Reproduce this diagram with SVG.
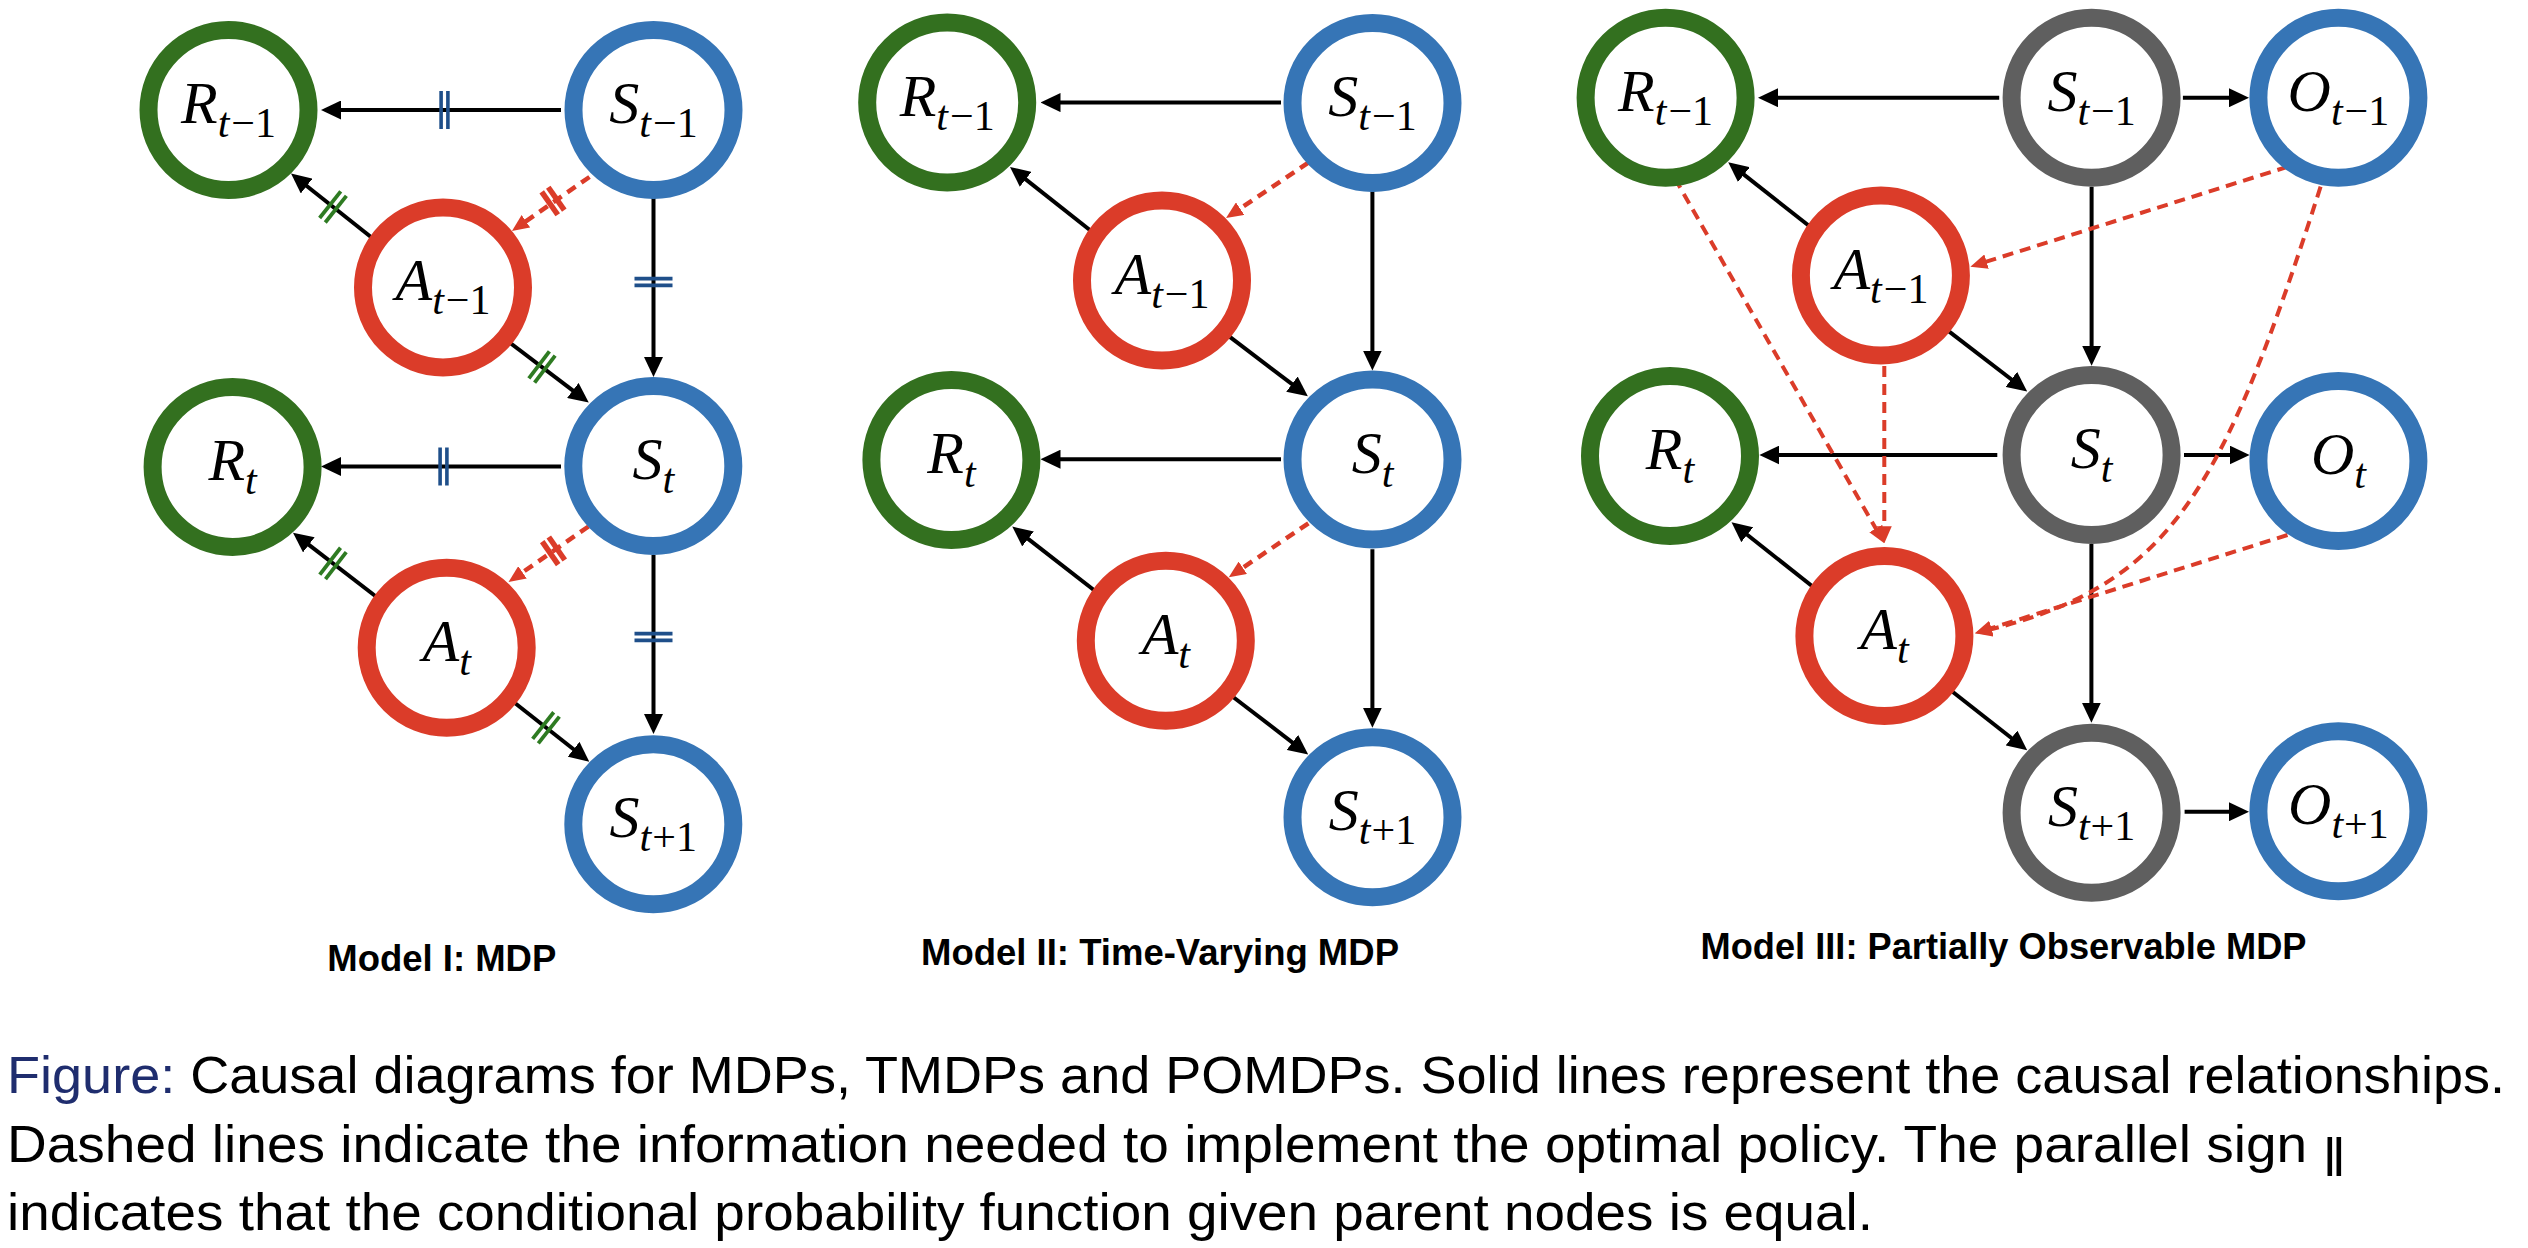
<svg xmlns="http://www.w3.org/2000/svg" width="2528" height="1248" viewBox="0 0 2528 1248">
<defs>
<style>
.n circle{fill:#fff;stroke-width:18}
.g circle{stroke:#33701f}
.b circle{stroke:#3675b6}
.r circle{stroke:#db3c29}
.k circle{stroke:#5f5f5f}
.lbl{font-family:"Liberation Serif","Times New Roman",serif;font-size:60px;text-anchor:middle;fill:#000}
.it{font-style:italic}
.sb{font-size:42px}
.e{stroke:#000;stroke-width:4;fill:none;marker-end:url(#ah)}
.d{stroke:#db3c29;stroke-width:4.5;fill:none;stroke-dasharray:10 7;marker-end:url(#ahr)}
.d3{stroke-width:4;stroke-dasharray:11 7}
.ttl{font-family:"Liberation Sans",Arial,sans-serif;font-weight:bold;font-size:36px;text-anchor:middle;fill:#000}
.cap{font-family:"Liberation Sans",Arial,sans-serif;font-size:52px;fill:#000}
.tb{stroke:#1f4f8a;stroke-width:3.6}
.tg{stroke:#2e7b22;stroke-width:3.8}
.tr{stroke:#db3c29;stroke-width:5.5}
</style>
<marker id="ah" markerUnits="userSpaceOnUse" viewBox="0 0 20 19" markerWidth="20" markerHeight="19" refX="6" refY="9.5" orient="auto"><path d="M0,0 L20,9.5 L0,19 z" fill="#000"/></marker>
<marker id="ahr" markerUnits="userSpaceOnUse" viewBox="0 0 17 15" markerWidth="17" markerHeight="15" refX="5" refY="7.5" orient="auto"><path d="M0,0 L17,7.5 L0,15 z" fill="#db3c29"/></marker>
<g id="tkB"><line x1="-3.4" y1="-19" x2="-3.4" y2="19"/><line x1="3.4" y1="-19" x2="3.4" y2="19"/></g>
<g id="tkG"><line x1="-3.6" y1="-17" x2="-3.6" y2="17"/><line x1="3.6" y1="-17" x2="3.6" y2="17"/></g>
<g id="tkR"><line x1="-4" y1="-14" x2="-4" y2="14"/><line x1="4" y1="-14" x2="4" y2="14"/></g>
</defs>
<rect width="2528" height="1248" fill="#fff"/>

<g id="connectors">
<path class="e" d="M561,110H335"/>
<path class="e" d="M561,466.5H335"/>
<path class="e" d="M376,241L302,182.3"/>
<path class="e" d="M509,342L577.6,394.1"/>
<path class="e" d="M653.5,198V363"/>
<path class="e" d="M653.5,555V720"/>
<path class="e" d="M380.5,600L304.1,541.2"/>
<path class="e" d="M513.3,701.7L578.3,753"/>
<path class="d" d="M589.5,177L521.8,224.1"/>
<path class="d" d="M588.5,526.5L518.4,575.2"/>
<use href="#tkB" class="tb" transform="translate(444.5,110)"/>
<use href="#tkB" class="tb" transform="translate(443.5,466.5)"/>
<use href="#tkB" class="tb" transform="translate(653.5,282) rotate(90)"/>
<use href="#tkB" class="tb" transform="translate(653.5,637) rotate(90)"/>
<use href="#tkG" class="tg" transform="translate(333,206.9) rotate(38.4)"/>
<use href="#tkG" class="tg" transform="translate(542,367) rotate(37.2)"/>
<use href="#tkG" class="tg" transform="translate(333,563.4) rotate(37.6)"/>
<use href="#tkG" class="tg" transform="translate(546,727.8) rotate(38.3)"/>
<use href="#tkR" class="tr" transform="translate(553,201) rotate(145.1)"/>
<use href="#tkR" class="tr" transform="translate(553.5,550.8) rotate(145.2)"/>
<path class="e" d="M1281,102.6H1054.5"/>
<path class="e" d="M1281,459.2H1054.5"/>
<path class="e" d="M1095.2,234.2L1021,175.6"/>
<path class="e" d="M1227.2,334.9L1296.7,387.7"/>
<path class="e" d="M1372.4,191.4V356.5"/>
<path class="e" d="M1372.4,549.3V713.7"/>
<path class="e" d="M1099,594L1023.3,535.2"/>
<path class="e" d="M1231.8,696L1297.1,746.1"/>
<path class="d" d="M1308.4,162.6L1236,211.4"/>
<path class="d" d="M1308.4,523.3L1238.7,570.6"/>
<path class="e" d="M1999.2,97.7H1772"/>
<path class="e" d="M2182.9,97.7H2235"/>
<path class="e" d="M1814.3,230L1739.2,170.9"/>
<path class="e" d="M2091.6,186.7V351.7"/>
<path class="e" d="M1946.3,329.3L2016.1,383"/>
<path class="e" d="M1997.3,455H1773.4"/>
<path class="e" d="M2184,455H2235.6"/>
<path class="e" d="M2091.4,544V708.7"/>
<path class="e" d="M1817,590L1742.5,531"/>
<path class="e" d="M1950.3,690L2016.2,741.7"/>
<path class="e" d="M2184.6,811.7H2235"/>
<path class="d d3" d="M2287.9,166.7L1981.8,263.1"/>
<path class="d d3" d="M1674.8,178.3L1878.3,532.9"/>
<path class="d d3" d="M1884.3,366V531.3"/>
<path class="d d3" d="M2320.6,186.7C2222.7,491.3 2172,584.5 1986.7,630.4"/>
<path class="d d3" d="M2287.5,535L1986.4,629.7"/>
</g>

<g id="m1-R-tm1" class="n g"><circle cx="228.5" cy="110" r="80"/><text class="lbl" x="228.5" y="123"><tspan class="it">R</tspan><tspan class="sb it" dy="14">t</tspan><tspan class="sb" dx="2">−1</tspan></text></g>
<g id="m1-S-tm1" class="n b"><circle cx="653.5" cy="110" r="80"/><text class="lbl" x="653.5" y="123"><tspan class="it">S</tspan><tspan class="sb it" dy="14">t</tspan><tspan class="sb" dx="2">−1</tspan></text></g>
<g id="m1-A-tm1" class="n r"><circle cx="443" cy="287.4" r="80"/><text class="lbl" x="443" y="300.4"><tspan class="it">A</tspan><tspan class="sb it" dy="14">t</tspan><tspan class="sb" dx="2">−1</tspan></text></g>
<g id="m1-R-t" class="n g"><circle cx="232.6" cy="466.9" r="80"/><text class="lbl" x="232.6" y="479.9"><tspan class="it">R</tspan><tspan class="sb it" dy="14">t</tspan></text></g>
<g id="m1-S-t" class="n b"><circle cx="653.3" cy="466" r="80"/><text class="lbl" x="653.3" y="479"><tspan class="it">S</tspan><tspan class="sb it" dy="14">t</tspan></text></g>
<g id="m1-A-t" class="n r"><circle cx="446.7" cy="647.7" r="80"/><text class="lbl" x="446.7" y="660.7"><tspan class="it">A</tspan><tspan class="sb it" dy="14">t</tspan></text></g>
<g id="m1-S-tp1" class="n b"><circle cx="653.3" cy="824.3" r="80"/><text class="lbl" x="653.3" y="837.3"><tspan class="it">S</tspan><tspan class="sb it" dy="14">t</tspan><tspan class="sb" dx="1">+1</tspan></text></g>

<g id="m2-R-tm1" class="n g"><circle cx="947.2" cy="102.6" r="80"/><text class="lbl" x="947.2" y="115.6"><tspan class="it">R</tspan><tspan class="sb it" dy="14">t</tspan><tspan class="sb" dx="2">−1</tspan></text></g>
<g id="m2-S-tm1" class="n b"><circle cx="1372.5" cy="103" r="80"/><text class="lbl" x="1372.5" y="116"><tspan class="it">S</tspan><tspan class="sb it" dy="14">t</tspan><tspan class="sb" dx="2">−1</tspan></text></g>
<g id="m2-A-tm1" class="n r"><circle cx="1162" cy="280.5" r="80"/><text class="lbl" x="1162" y="293.5"><tspan class="it">A</tspan><tspan class="sb it" dy="14">t</tspan><tspan class="sb" dx="2">−1</tspan></text></g>
<g id="m2-R-t" class="n g"><circle cx="951.4" cy="460" r="80"/><text class="lbl" x="951.4" y="473"><tspan class="it">R</tspan><tspan class="sb it" dy="14">t</tspan></text></g>
<g id="m2-S-t" class="n b"><circle cx="1372.5" cy="459.5" r="80"/><text class="lbl" x="1372.5" y="472.5"><tspan class="it">S</tspan><tspan class="sb it" dy="14">t</tspan></text></g>
<g id="m2-A-t" class="n r"><circle cx="1165.8" cy="640.7" r="80"/><text class="lbl" x="1165.8" y="653.7"><tspan class="it">A</tspan><tspan class="sb it" dy="14">t</tspan></text></g>
<g id="m2-S-tp1" class="n b"><circle cx="1372.5" cy="817.3" r="80"/><text class="lbl" x="1372.5" y="830.3"><tspan class="it">S</tspan><tspan class="sb it" dy="14">t</tspan><tspan class="sb" dx="1">+1</tspan></text></g>

<g id="m3-R-tm1" class="n g"><circle cx="1665.6" cy="97.8" r="80"/><text class="lbl" x="1665.6" y="110.8"><tspan class="it">R</tspan><tspan class="sb it" dy="14">t</tspan><tspan class="sb" dx="2">−1</tspan></text></g>
<g id="m3-S-tm1" class="n k"><circle cx="2091.6" cy="97.8" r="80"/><text class="lbl" x="2091.6" y="110.8"><tspan class="it">S</tspan><tspan class="sb it" dy="14">t</tspan><tspan class="sb" dx="2">−1</tspan></text></g>
<g id="m3-O-tm1" class="n b"><circle cx="2338.4" cy="97.8" r="80"/><text class="lbl" x="2338.4" y="110.8"><tspan class="it">O</tspan><tspan class="sb it" dy="14">t</tspan><tspan class="sb" dx="2">−1</tspan></text></g>
<g id="m3-A-tm1" class="n r"><circle cx="1880.9" cy="275.5" r="80"/><text class="lbl" x="1880.9" y="288.5"><tspan class="it">A</tspan><tspan class="sb it" dy="14">t</tspan><tspan class="sb" dx="2">−1</tspan></text></g>
<g id="m3-R-t" class="n g"><circle cx="1670" cy="456" r="80"/><text class="lbl" x="1670" y="469"><tspan class="it">R</tspan><tspan class="sb it" dy="14">t</tspan></text></g>
<g id="m3-S-t" class="n k"><circle cx="2091.6" cy="455" r="80"/><text class="lbl" x="2091.6" y="468"><tspan class="it">S</tspan><tspan class="sb it" dy="14">t</tspan></text></g>
<g id="m3-O-t" class="n b"><circle cx="2338.4" cy="461" r="80"/><text class="lbl" x="2338.4" y="474"><tspan class="it">O</tspan><tspan class="sb it" dy="14">t</tspan></text></g>
<g id="m3-A-t" class="n r"><circle cx="1884.4" cy="636" r="80"/><text class="lbl" x="1884.4" y="649"><tspan class="it">A</tspan><tspan class="sb it" dy="14">t</tspan></text></g>
<g id="m3-S-tp1" class="n k"><circle cx="2091.6" cy="812.8" r="80"/><text class="lbl" x="2091.6" y="825.8"><tspan class="it">S</tspan><tspan class="sb it" dy="14">t</tspan><tspan class="sb" dx="1">+1</tspan></text></g>
<g id="m3-O-tp1" class="n b"><circle cx="2338.4" cy="811.3" r="80"/><text class="lbl" x="2338.4" y="824.3"><tspan class="it">O</tspan><tspan class="sb it" dy="14">t</tspan><tspan class="sb" dx="1">+1</tspan></text></g>

<g id="titles">
<text class="ttl" x="441.8" y="971" textLength="229" lengthAdjust="spacingAndGlyphs">Model I: MDP</text>
<text class="ttl" x="1160" y="965" textLength="478" lengthAdjust="spacingAndGlyphs">Model II: Time-Varying MDP</text>
<text class="ttl" x="2003.5" y="959" textLength="606" lengthAdjust="spacingAndGlyphs">Model III: Partially Observable MDP</text>
</g>

<g id="caption">
<text class="cap" x="7" y="1093" textLength="2498" lengthAdjust="spacingAndGlyphs"><tspan fill="#1f2d6e">Figure:</tspan> Causal diagrams for MDPs, TMDPs and POMDPs. Solid lines represent the causal relationships.</text>
<text class="cap" x="7" y="1162" textLength="2339" lengthAdjust="spacingAndGlyphs">Dashed lines indicate the information needed to implement the optimal policy. The parallel sign <tspan font-size="54" dy="14">‖</tspan></text>
<text class="cap" x="7" y="1230" textLength="1866" lengthAdjust="spacingAndGlyphs">indicates that the conditional probability function given parent nodes is equal.</text>
</g>
</svg>
